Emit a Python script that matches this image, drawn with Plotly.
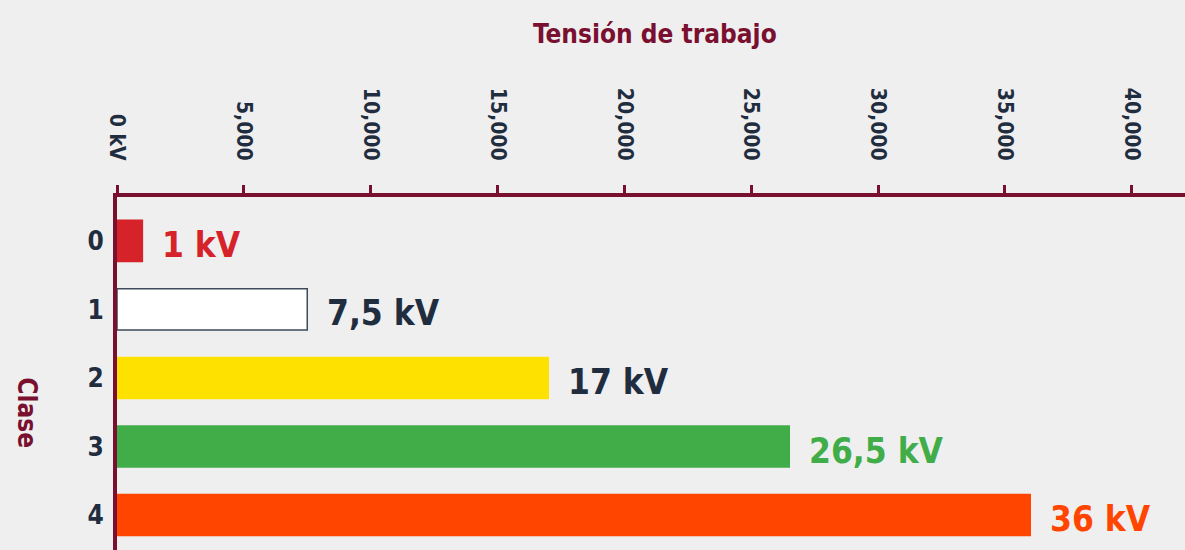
import plotly.graph_objects as go

clases = ["0", "1", "2", "3", "4"]
tension_v = [1000, 7500, 17000, 26500, 36000]
etiquetas = ["1 kV", "7,5 kV", "17 kV", "26,5 kV", "36 kV"]
colores = ["#d62229", "#ffffff", "#ffe100", "#41ad49", "#ff4500"]
bordes = ["#d62229", "#3d4a5a", "#ffe100", "#41ad49", "#ff4500"]
color_texto = ["#d62229", "#1f2d3f", "#1f2d3f", "#41ad49", "#ff4500"]
tick_vals = [0, 5000, 10000, 15000, 20000, 25000, 30000, 35000, 40000]
tick_text = ["0 kV", "5,000", "10,000", "15,000", "20,000", "25,000", "30,000", "35,000", "40,000"]

FONT = "Liberation Sans Narrow, DejaVu Sans Condensed, Arial Narrow, sans-serif"
MAROON = "#7a1030"
NAVY = "#1f2d3f"

fig = go.Figure()
fig.add_trace(go.Bar(
    x=tension_v, y=list(range(len(clases))), orientation="h",
    marker=dict(color=colores, line=dict(color=bordes, width=1.5)),
    width=0.6, hoverinfo="skip",
))

for i, (v, t, c) in enumerate(zip(tension_v, etiquetas, color_texto)):
    fig.add_annotation(x=v, y=i, text=f"<b>{t}</b>", showarrow=False,
                       xanchor="left", yanchor="middle", xshift=18, yshift=-4,
                       font=dict(family=FONT, size=35, color=c))

fig.add_annotation(x=0.5, y=1, xref="paper", yref="paper", yanchor="bottom",
                   yshift=146, xshift=4, text="<b>Tensión de trabajo</b>", showarrow=False,
                   font=dict(family=FONT, size=26, color=MAROON))
fig.add_annotation(x=0, y=0.39, xref="paper", yref="paper", xanchor="center",
                   xshift=-90, text="<b>Clase</b>", textangle=90, showarrow=False,
                   font=dict(family=FONT, size=26, color=MAROON))

fig.update_layout(
    width=1185, height=550,
    margin=dict(l=117, r=0, t=197, b=0),
    paper_bgcolor="#efefef", plot_bgcolor="#efefef",
    showlegend=False, bargap=0.4,
    xaxis=dict(side="top", range=[0, 42100], tickvals=tick_vals, ticktext=tick_text,
               tickangle=90, showgrid=False, zeroline=False,
               showline=True, linecolor=MAROON, linewidth=4,
               ticks="outside", ticklen=8, tickwidth=3, tickcolor=MAROON,
               ticklabelstandoff=17,
               tickfont=dict(family=FONT, size=21, color=NAVY, weight="bold")),
    yaxis=dict(range=[4.51, -0.64], tickvals=list(range(len(clases))), ticktext=clases,
               showgrid=False, zeroline=False, showline=True, linecolor=MAROON,
               linewidth=4, ticks="", ticklabelstandoff=4,
               tickfont=dict(family=FONT, size=26, color=NAVY, weight="bold")),
)

fig.write_html("out.html", config={"displayModeBar": False},
               post_script="document.body.style.margin='0';")
